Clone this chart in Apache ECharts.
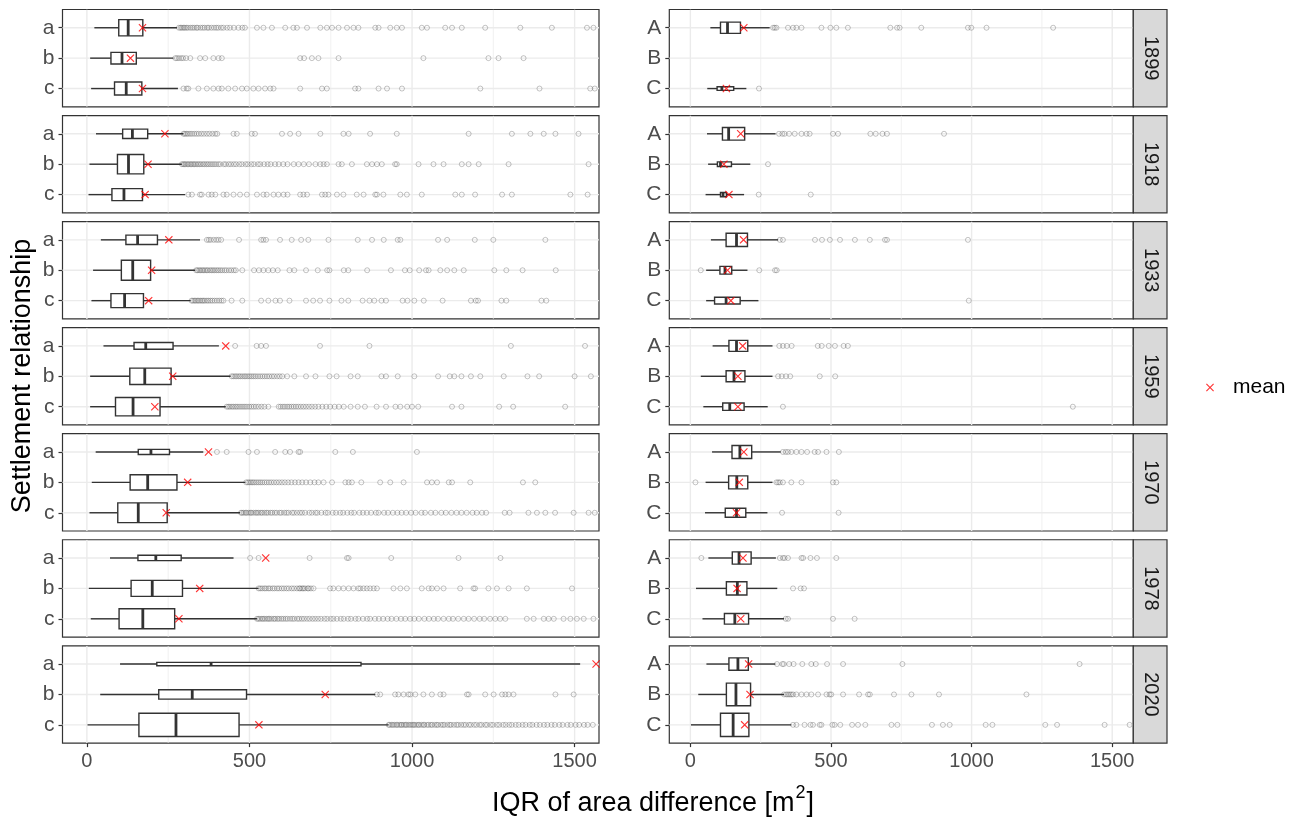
<!DOCTYPE html>
<html>
<head>
<meta charset="utf-8">
<script src="https://cdn.jsdelivr.net/npm/echarts@6/dist/echarts.min.js"></script>
<style>
  html, body { margin: 0; padding: 0; background: #ffffff; }
  #chart { width: 1296px; height: 819px; }
</style>
</head>
<body>
<div id="chart"></div>
<script>
// Facet rows (survey years) and the settlement-relationship classes per column
const years = ['1899', '1918', '1933', '1959', '1970', '1978', '2020'];
const leftCats = ['a', 'b', 'c'];
const rightCats = ['A', 'B', 'C'];
const xTicks = [0, 500, 1000, 1500];
const xGridValues = [0, 250, 500, 750, 1000, 1250, 1500];

// Five-number summaries per year and class: [lower whisker, Q1, median, Q3, upper whisker]
const leftBoxes = [
  [[23, 98, 127, 172, 277], [10, 74, 108, 152, 266], [13, 85, 121, 169, 280]],
  [[28, 110, 140, 187, 297], [8, 94, 128, 175, 292], [5, 77, 114, 171, 302]],
  [[43, 120, 156, 217, 348], [19, 106, 141, 196, 333], [14, 74, 116, 174, 319]],
  [[51, 145, 181, 265, 406], [10, 132, 178, 259, 442], [10, 88, 142, 225, 427]],
  [[27, 158, 197, 254, 358], [15, 133, 187, 277, 487], [8, 95, 158, 247, 471]],
  [[71, 157, 212, 290, 451], [6, 136, 201, 294, 528], [12, 99, 172, 270, 523]],
  [[102, 215, 382, 843, 1517], [41, 221, 324, 491, 887], [2, 160, 274, 468, 928]]
];
const rightBoxes = [
  [[71, 107, 132, 178, 282], null, [60, 95, 112, 154, 199]],
  [[59, 114, 136, 193, 303], [63, 96, 107, 146, 213], [54, 107, 116, 128, 191]],
  [[73, 127, 164, 203, 312], [56, 105, 123, 147, 203], [56, 86, 127, 177, 242]],
  [[79, 137, 164, 204, 292], [37, 127, 155, 194, 292], [46, 115, 140, 191, 275]],
  [[77, 148, 176, 218, 321], [54, 136, 165, 204, 292], [52, 124, 164, 197, 274]],
  [[64, 149, 173, 216, 304], [20, 128, 167, 201, 309], [43, 121, 158, 207, 333]],
  [[57, 137, 169, 206, 302], [28, 128, 162, 214, 333], [2, 107, 152, 208, 359]]
];

// Group means
const leftMeans = [
  [171, 134, 171], [240, 188, 179], [252, 199, 190], [427, 264, 209],
  [374, 310, 244], [550, 347, 283], [1566, 733, 529]
];
const rightMeans = [
  [190, null, 128], [179, 119, 137], [189, 132, 144], [186, 169, 169],
  [190, 174, 164], [187, 166, 179], [207, 212, 193]
];

// Group sizes (box thickness scales with sqrt(n))
const leftCounts = [
  [880, 450, 560], [290, 1240, 480], [290, 1330, 650], [150, 880, 1110],
  [85, 780, 1290], [95, 850, 1330], [36, 290, 1800]
];
const rightCounts = [
  [420, 0, 45], [535, 73, 61], [590, 197, 149], [400, 400, 177],
  [560, 560, 270], [500, 590, 380], [500, 1710, 1800]
];

// Outlying values per year and class
const leftOutliers = [
  [
    [283, 288, 292, 297, 301, 306, 311, 318, 324, 330, 337, 341, 349, 356, 362, 370, 375, 383, 391, 398, 404, 413, 420, 431, 440, 452, 466, 478, 486, 523, 543, 569, 610, 635, 646, 677, 718, 738, 754, 774, 800, 820, 835, 887, 897, 933, 953, 969, 1030, 1046, 1102, 1123, 1153, 1225, 1333, 1430, 1538, 1558],
    [272, 277, 283, 290, 296, 305, 318, 348, 364, 389, 405, 415, 656, 668, 692, 712, 774, 1035, 1235, 1266, 1343],
    [297, 307, 312, 343, 369, 389, 405, 415, 435, 456, 477, 492, 512, 528, 548, 564, 574, 656, 723, 738, 825, 835, 897, 923, 969, 1210, 1392, 1548, 1562]
  ],
  [
    [297, 301, 306, 311, 317, 323, 330, 337, 344, 352, 360, 369, 377, 386, 395, 401, 451, 461, 507, 517, 600, 625, 651, 718, 789, 805, 871, 953, 1174, 1307, 1364, 1405, 1441, 1512],
    [292, 296, 300, 304, 309, 313, 318, 322, 327, 331, 336, 341, 346, 351, 357, 362, 368, 373, 379, 385, 391, 397, 404, 410, 421, 427, 436, 443, 452, 459, 469, 477, 488, 495, 506, 514, 526, 533, 545, 556, 565, 579, 590, 604, 617, 636, 651, 667, 683, 703, 718, 728, 738, 774, 784, 815, 861, 877, 892, 907, 948, 953, 1020, 1066, 1097, 1153, 1174, 1205, 1297, 1543],
    [312, 323, 348, 353, 374, 384, 395, 420, 430, 451, 471, 492, 523, 543, 553, 574, 589, 605, 617, 656, 666, 677, 723, 733, 743, 769, 789, 830, 851, 887, 892, 912, 964, 984, 1030, 1133, 1153, 1194, 1277, 1307, 1487, 1540]
  ],
  [
    [369, 375, 381, 390, 398, 405, 413, 468, 536, 543, 551, 594, 630, 659, 681, 743, 833, 877, 913, 956, 964, 1080, 1108, 1193, 1250, 1410],
    [336, 340, 345, 349, 354, 358, 363, 368, 372, 378, 383, 388, 393, 399, 404, 410, 416, 423, 429, 437, 444, 452, 458, 478, 514, 529, 543, 558, 572, 587, 623, 638, 674, 710, 739, 746, 790, 804, 862, 935, 978, 993, 1022, 1043, 1051, 1087, 1108, 1130, 1159, 1253, 1290, 1340, 1442],
    [322, 326, 331, 335, 340, 344, 349, 354, 358, 363, 369, 374, 380, 386, 393, 400, 407, 414, 420, 445, 478, 536, 558, 580, 594, 623, 674, 696, 717, 746, 783, 804, 848, 869, 884, 906, 920, 971, 986, 1007, 1036, 1094, 1181, 1196, 1203, 1275, 1290, 1398, 1413]
  ],
  [
    [456, 522, 536, 551, 717, 869, 1304, 1532],
    [445, 450, 456, 461, 467, 472, 478, 484, 489, 495, 501, 507, 513, 519, 526, 533, 540, 547, 554, 561, 569, 576, 585, 593, 601, 616, 638, 674, 703, 746, 768, 811, 833, 906, 920, 956, 1007, 1080, 1116, 1130, 1152, 1181, 1210, 1282, 1355, 1391, 1500, 1550],
    [430, 435, 440, 446, 451, 457, 462, 468, 474, 480, 486, 492, 499, 506, 513, 520, 528, 537, 546, 558, 590, 596, 603, 609, 616, 622, 629, 636, 643, 650, 658, 666, 674, 683, 692, 702, 712, 724, 736, 748, 762, 775, 790, 811, 833, 855, 891, 920, 949, 964, 985, 1000, 1019, 1123, 1152, 1268, 1311, 1471]
  ],
  [
    [400, 430, 497, 523, 579, 610, 625, 651, 656, 764, 818, 1015],
    [490, 495, 500, 505, 510, 515, 521, 527, 533, 539, 546, 553, 560, 567, 575, 583, 591, 600, 609, 619, 629, 640, 651, 662, 674, 687, 700, 712, 728, 754, 795, 805, 815, 844, 902, 933, 974, 1046, 1061, 1077, 1113, 1123, 1179, 1341, 1379],
    [474, 477, 482, 488, 491, 497, 503, 506, 512, 519, 523, 528, 535, 539, 546, 552, 557, 565, 570, 578, 584, 593, 598, 607, 614, 620, 631, 637, 646, 655, 662, 671, 684, 692, 703, 709, 721, 734, 741, 756, 766, 779, 788, 801, 813, 822, 838, 849, 861, 874, 889, 897, 914, 926, 941, 955, 968, 982, 997, 1011, 1029, 1040, 1058, 1072, 1090, 1104, 1121, 1137, 1152, 1168, 1186, 1199, 1215, 1228, 1285, 1300, 1358, 1384, 1410, 1440, 1497, 1543, 1562]
  ],
  [
    [502, 528, 685, 800, 805, 936, 1143, 1272],
    [528, 533, 539, 546, 551, 558, 563, 571, 577, 585, 591, 599, 606, 614, 621, 630, 637, 646, 653, 656, 662, 666, 671, 679, 682, 689, 697, 748, 758, 774, 789, 805, 820, 835, 841, 851, 861, 871, 882, 892, 943, 964, 984, 1030, 1051, 1061, 1077, 1097, 1148, 1189, 1194, 1235, 1261, 1297, 1353, 1492],
    [523, 527, 532, 538, 542, 547, 553, 558, 562, 568, 575, 579, 586, 591, 598, 604, 611, 617, 625, 632, 638, 647, 653, 661, 668, 677, 685, 694, 702, 711, 720, 731, 739, 750, 758, 769, 781, 790, 803, 812, 826, 835, 849, 862, 871, 886, 898, 911, 925, 937, 952, 966, 979, 994, 1007, 1021, 1038, 1052, 1067, 1080, 1097, 1113, 1126, 1142, 1159, 1174, 1191, 1208, 1222, 1240, 1256, 1271, 1287, 1353, 1374, 1405, 1420, 1436, 1466, 1487, 1507, 1528, 1558]
  ],
  [
    [],
    [892, 902, 948, 958, 974, 989, 995, 1010, 1035, 1061, 1087, 1097, 1169, 1174, 1225, 1251, 1277, 1287, 1297, 1312, 1441, 1497],
    [928, 931, 937, 941, 946, 952, 955, 961, 966, 969, 975, 980, 983, 989, 994, 999, 1004, 1007, 1013, 1019, 1022, 1029, 1035, 1038, 1046, 1051, 1058, 1062, 1070, 1076, 1080, 1089, 1095, 1100, 1109, 1116, 1120, 1129, 1137, 1142, 1151, 1159, 1165, 1175, 1181, 1191, 1198, 1208, 1214, 1225, 1231, 1242, 1249, 1261, 1268, 1280, 1288, 1299, 1307, 1319, 1328, 1340, 1349, 1362, 1370, 1383, 1393, 1406, 1416, 1429, 1439, 1453, 1463, 1478, 1488, 1503, 1514, 1529, 1540, 1556]
  ]
];
const rightOutliers = [
  [
    [294, 300, 306, 347, 365, 377, 395, 466, 498, 519, 560, 711, 735, 744, 821, 987, 999, 1053, 1290],
    [],
    [244]
  ],
  [
    [315, 327, 335, 351, 371, 395, 413, 424, 507, 525, 640, 659, 683, 699, 902],
    [276],
    [243, 428]
  ],
  [
    [318, 329, 443, 468, 496, 532, 585, 638, 692, 699, 987],
    [37, 245, 301, 307],
    [990]
  ],
  [
    [316, 329, 343, 360, 453, 467, 492, 514, 545, 560],
    [312, 325, 340, 355, 460, 515],
    [329, 1360]
  ],
  [
    [329, 339, 347, 359, 377, 395, 415, 442, 454, 484, 528],
    [18, 306, 312, 318, 329, 359, 395, 507, 519],
    [326, 527]
  ],
  [
    [39, 318, 329, 335, 347, 395, 401, 427, 450, 519],
    [365, 392, 404],
    [339, 347, 507, 584]
  ],
  [
    [308, 327, 332, 351, 367, 398, 430, 446, 486, 543, 754, 1384],
    [333, 341, 347, 353, 359, 365, 377, 395, 413, 430, 454, 484, 495, 501, 543, 600, 632, 638, 724, 786, 884, 1195],
    [365, 377, 406, 427, 436, 460, 466, 505, 513, 533, 575, 596, 622, 715, 736, 859, 898, 922, 1050, 1074, 1262, 1304, 1473, 1562]
  ]
];

// ---------------------------------------------------------------------------
// Layout and styling
const FONT = '"Liberation Sans", Arial, Helvetica, sans-serif';
const X_MIN = -75, X_MAX = 1575;
const Y_MIN = 0.4, Y_MAX = 3.6;
const COL_LEFT = [62.5, 669.3];
const COL_WIDTH = [536.5, 464];
const ROW_TOP0 = 9.5, ROW_STEP = 106.05, ROW_HEIGHT = 97.3;
const STRIP_WIDTH = 33.7;
const BOX_SCALE = 0.766;
const INK = '#333333';
const X_PATH = 'path://M1,0L5,4L9,0L10,1L6,5L10,9L9,10L5,6L1,10L0,9L4,5L0,1Z';

const nMax = Math.max(...leftCounts.flat(), ...rightCounts.flat());

const grids = [], xAxes = [], yAxes = [], series = [], graphics = [];

function rowTop(r) { return ROW_TOP0 + r * ROW_STEP; }

function addPanel(col, row) {
  const gi = grids.length;
  const cats = col === 0 ? leftCats : rightCats;
  const boxes = (col === 0 ? leftBoxes : rightBoxes)[row];
  const means = (col === 0 ? leftMeans : rightMeans)[row];
  const counts = (col === 0 ? leftCounts : rightCounts)[row];
  const outs = (col === 0 ? leftOutliers : rightOutliers)[row];
  const bottom = row === years.length - 1;

  grids.push({
    left: COL_LEFT[col], top: rowTop(row), width: COL_WIDTH[col], height: ROW_HEIGHT,
    show: true, backgroundColor: '#ffffff', borderColor: INK, borderWidth: 1.2,
    containLabel: false
  });

  xAxes.push({
    type: 'value', gridIndex: gi, min: X_MIN, max: X_MAX,
    splitLine: { show: false }, axisLine: { show: false, onZero: false },
    axisTick: { show: bottom, customValues: xTicks, length: 4, lineStyle: { color: INK, width: 1.2 } },
    axisLabel: {
      show: bottom, customValues: xTicks, color: '#4D4D4D', fontSize: 20,
      fontFamily: FONT, margin: 8, formatter: (v) => String(v)
    }
  });

  yAxes.push({
    type: 'value', gridIndex: gi, min: Y_MIN, max: Y_MAX, inverse: true,
    splitLine: { show: false }, axisLine: { show: false, onZero: false },
    axisTick: { show: true, customValues: [1, 2, 3], length: 4, lineStyle: { color: INK, width: 1.2 } },
    axisLabel: {
      customValues: [1, 2, 3], color: '#4D4D4D', fontSize: 21, fontFamily: FONT, margin: 8,
      formatter: (v) => cats[Math.round(v) - 1]
    }
  });

  // vertical grid lines (major at multiples of 500, minor between)
  series.push({
    type: 'custom', xAxisIndex: gi, yAxisIndex: gi, silent: true, clip: true, z: 1,
    data: xGridValues.map((v) => [v, 2]),
    renderItem: (params, api) => {
      const v = api.value(0);
      const p1 = api.coord([v, Y_MIN]);
      const p2 = api.coord([v, Y_MAX]);
      const major = v % 500 === 0;
      return {
        type: 'line',
        shape: { x1: p1[0], y1: p1[1], x2: p2[0], y2: p2[1] },
        style: { stroke: '#EBEBEB', lineWidth: major ? 1.4 : 0.7 }
      };
    }
  });

  // horizontal grid lines at each class
  series.push({
    type: 'custom', xAxisIndex: gi, yAxisIndex: gi, silent: true, clip: true, z: 1,
    data: cats.map((c, i) => [0, i + 1]),
    renderItem: (params, api) => {
      const y = api.value(1);
      const p1 = api.coord([X_MIN, y]);
      const p2 = api.coord([X_MAX, y]);
      return {
        type: 'line',
        shape: { x1: p1[0], y1: p1[1], x2: p2[0], y2: p2[1] },
        style: { stroke: '#EBEBEB', lineWidth: 1.4 }
      };
    }
  });

  // outliers
  const outData = [];
  outs.forEach((list, i) => list.forEach((v) => outData.push([v, i + 1])));
  series.push({
    type: 'scatter', xAxisIndex: gi, yAxisIndex: gi, silent: true, z: 2,
    symbol: 'circle', symbolSize: 5,
    itemStyle: { color: 'rgba(0,0,0,0)', borderColor: 'rgba(60,60,60,0.42)', borderWidth: 0.9 },
    data: outData
  });

  // boxes with whiskers
  const boxData = [];
  boxes.forEach((b, i) => {
    if (b) boxData.push([i + 1, b[0], b[1], b[2], b[3], b[4], counts[i]]);
  });
  series.push({
    type: 'custom', xAxisIndex: gi, yAxisIndex: gi, silent: true, z: 3,
    encode: { x: [1, 2, 3, 4, 5], y: 0 },
    data: boxData,
    renderItem: (params, api) => {
      const y = api.value(0);
      const cy = api.coord([0, y])[1];
      const band = Math.abs(api.size([0, 1])[1]);
      const half = BOX_SCALE * Math.sqrt(api.value(6) / nMax) * band / 2;
      const px = (v) => api.coord([v, y])[0];
      const lo = px(api.value(1)), q1 = px(api.value(2)), md = px(api.value(3));
      const q3 = px(api.value(4)), hi = px(api.value(5));
      const lineStyle = { stroke: INK, lineWidth: 1.4 };
      return {
        type: 'group',
        children: [
          { type: 'line', shape: { x1: lo, y1: cy, x2: q1, y2: cy }, style: lineStyle },
          { type: 'line', shape: { x1: q3, y1: cy, x2: hi, y2: cy }, style: lineStyle },
          { type: 'rect', shape: { x: q1, y: cy - half, width: q3 - q1, height: 2 * half },
            style: { fill: '#ffffff', stroke: INK, lineWidth: 1.4 } },
          { type: 'line', shape: { x1: md, y1: cy - half, x2: md, y2: cy + half },
            style: { stroke: INK, lineWidth: 2.8 } }
        ]
      };
    }
  });

  // means
  const meanData = [];
  means.forEach((m, i) => { if (m !== null) meanData.push([m, i + 1]); });
  series.push({
    name: 'mean', type: 'scatter', xAxisIndex: gi, yAxisIndex: gi, silent: true, z: 4,
    symbol: X_PATH, symbolSize: 8,
    itemStyle: { color: '#FF0000' },
    data: meanData
  });
}

for (let r = 0; r < years.length; r++) {
  addPanel(0, r);
  addPanel(1, r);
  // facet strip on the right
  const sx = COL_LEFT[1] + COL_WIDTH[1];
  graphics.push({
    type: 'rect', silent: true, z: 10,
    shape: { x: sx, y: rowTop(r), width: STRIP_WIDTH, height: ROW_HEIGHT },
    style: { fill: '#D9D9D9', stroke: INK, lineWidth: 1.2 }
  });
  graphics.push({
    type: 'text', silent: true, z: 11,
    x: sx + STRIP_WIDTH / 2, y: rowTop(r) + ROW_HEIGHT / 2, rotation: -Math.PI / 2,
    style: {
      text: years[r], fill: '#1A1A1A', fontSize: 20, fontFamily: FONT,
      align: 'center', verticalAlign: 'middle'
    }
  });
}

// axis titles
graphics.push({
  type: 'text', silent: true, x: 23, y: 376, rotation: Math.PI / 2,
  style: {
    text: 'Settlement relationship', fill: '#000000', fontSize: 27, fontFamily: FONT,
    align: 'center', verticalAlign: 'middle'
  }
});
graphics.push({
  type: 'text', silent: true, x: 653, y: 801,
  style: {
    text: '{t|IQR of area difference [m}{s|2}{t|]}',
    align: 'center', verticalAlign: 'middle',
    rich: {
      t: { fontSize: 27, fontFamily: FONT, fill: '#000000', verticalAlign: 'bottom' },
      s: { fontSize: 18, fontFamily: FONT, fill: '#000000', verticalAlign: 'bottom',
           padding: [0, 1, 15, 1] }
    }
  }
});

const chart = echarts.init(document.getElementById('chart'));
chart.setOption({
  animation: false,
  backgroundColor: '#ffffff',
  grid: grids,
  xAxis: xAxes,
  yAxis: yAxes,
  legend: {
    data: [{ name: 'mean', icon: X_PATH }],
    left: 1201, top: 372, itemWidth: 8, itemHeight: 8,
    selectedMode: false,
    itemStyle: { color: '#FF0000' },
    textStyle: { fontSize: 21, color: '#000000', fontFamily: FONT, padding: [0, 0, 0, 14] }
  },
  graphic: { elements: graphics },
  series: series
});
</script>
</body>
</html>
